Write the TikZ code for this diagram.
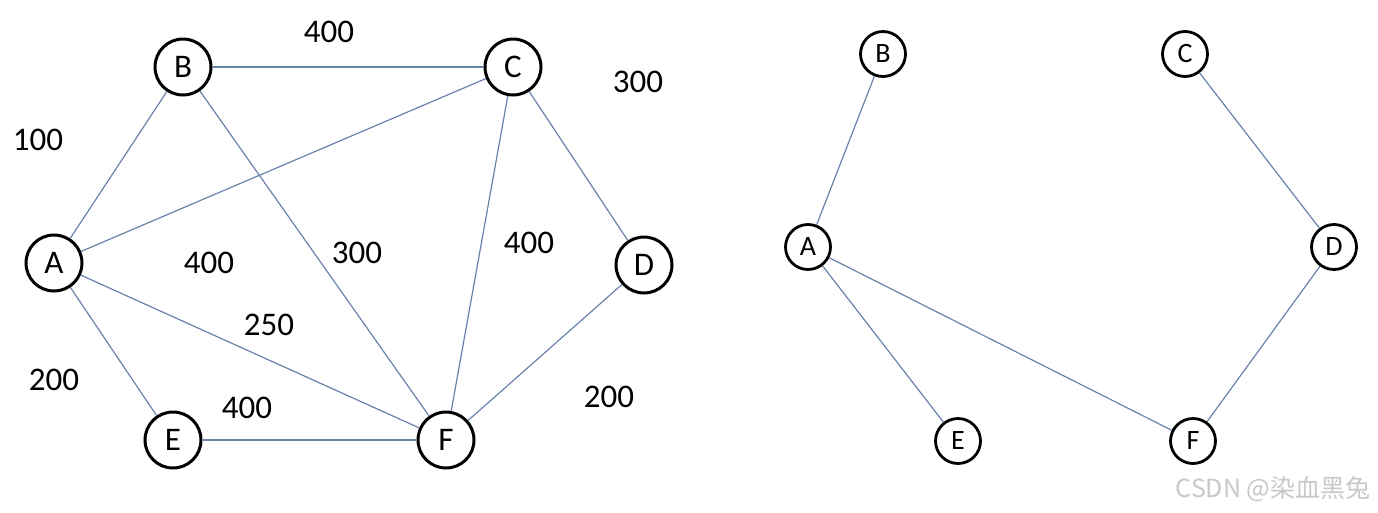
\documentclass[tikz,border=0pt]{standalone}
\usepackage{fontspec}
\setmainfont{Carlito}
\newfontfamily\cjkfont{Noto Sans CJK SC}
\usetikzlibrary{positioning}
\definecolor{linkblue}{RGB}{105,130,170}
\definecolor{markgray}{RGB}{200,200,200}

\begin{document}
\begin{tikzpicture}[x=1pt, y=-1pt,
        vnode/.style={draw, circle, fill=white, line width=3pt, minimum size=56pt, inner sep=0pt, font=\fontsize{33}{33}\selectfont},
        tnode/.style={draw, circle, fill=white, line width=2.8pt, minimum size=45pt, inner sep=0pt, font=\fontsize{28}{28}\selectfont},
        link/.style={draw=linkblue, line width=1.2pt},
        weight/.style={font=\fontsize{33}{33}\selectfont}
    ]
    \useasboundingbox (0,0) rectangle (1378,512);

    % ---- Left: the full weighted graph ----
    \node[vnode] (A) at (54, 263) {A};
    \node[vnode] (B) at (183, 67) {B};
    \node[vnode] (C) at (513, 67) {C};
    \node[vnode] (D) at (644, 265) {D};
    \node[vnode] (E) at (173, 440) {E};
    \node[vnode] (F) at (446, 440) {F};
    \draw[link] (A)--(B); \draw[link] (A)--(C); \draw[link] (A)--(E); \draw[link] (A)--(F);
    \draw[link] (B)--(C); \draw[link] (B)--(F);
    \draw[link] (C)--(D); \draw[link] (C)--(F);
    \draw[link] (D)--(F); \draw[link] (E)--(F);

    % weights
    \node[weight] (wBC) at (329, 32) {400};
    \node[weight] (wCD) at (638, 82) {300};
    \node[weight] (wAB) at (38, 140) {100};
    \node[weight] (wAC) at (209, 263) {400};
    \node[weight] (wBF) at (357, 253) {300};
    \node[weight] (wCF) at (529, 243) {400};
    \node[weight] (wAF) at (269, 325) {250};
    \node[weight] (wAE) at (54, 380) {200};
    \node[weight] (wEF) at (247, 408) {400};
    \node[weight] (wDF) at (609, 397) {200};

    % ---- Right: the spanning tree ----
    \node[tnode] (At) at (808, 247) {A};
    \node[tnode] (Bt) at (883, 54) {B};
    \node[tnode] (Ct) at (1185, 54) {C};
    \node[tnode] (Dt) at (1334, 247) {D};
    \node[tnode] (Et) at (958, 441) {E};
    \node[tnode] (Ft) at (1193, 441) {F};
    \draw[link] (At)--(Bt); \draw[link] (At)--(Et); \draw[link] (At)--(Ft);
    \draw[link] (Ct)--(Dt); \draw[link] (Dt)--(Ft);

    \node[markgray, anchor=east, font=\cjkfont\fontsize{25}{25}\selectfont] (mark) at (1374, 489) {CSDN @染血黑兔};
\end{tikzpicture}
\end{document}
